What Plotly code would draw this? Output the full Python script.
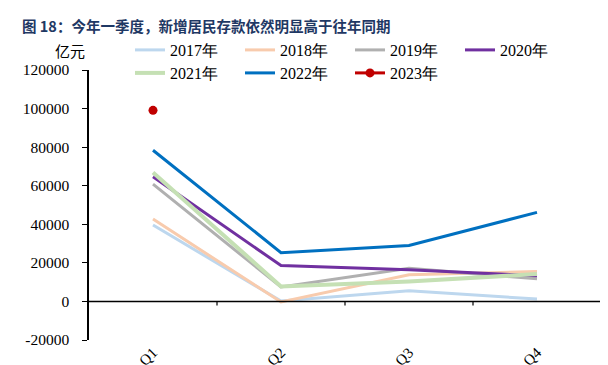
import plotly.graph_objects as go

quarters = ["Q1", "Q2", "Q3", "Q4"]
y2017 = [39600, 200, 5500, 1200]
y2018 = [42700, -300, 13800, 15500]
y2019 = [60800, 7500, 17200, 11700]
y2020 = [64600, 18600, 16400, 13300]
y2021 = [66900, 7800, 10300, 14200]
y2022 = [78400, 25300, 29000, 46200]
y2023 = [99100, None, None, None]
y_ticks = [-20000, 0, 20000, 40000, 60000, 80000, 100000, 120000]
y_ticklabels = ["-20000", "0", "20000", "40000", "60000", "80000", "100000", "120000"]

OFF = 8  # page body margin
W, H = 608 - OFF, 365 - OFF
serif = "Liberation Serif"

series = [
    ("2017年", y2017, "#BDD7EE", 3, "legend"),
    ("2018年", y2018, "#F8CBAD", 3, "legend"),
    ("2019年", y2019, "#B0B0B0", 3, "legend"),
    ("2020年", y2020, "#7030A0", 3, "legend"),
    ("2021年", y2021, "#C5E0B4", 4, "legend2"),
    ("2022年", y2022, "#0070C0", 3, "legend2"),
]

fig = go.Figure()
for name, ys, color, w, lg in series:
    fig.add_trace(go.Scatter(x=quarters, y=ys, name=name, mode="lines",
                             line=dict(color=color, width=w), legend=lg))
fig.add_trace(go.Scatter(x=quarters, y=y2023, name="2023年", mode="lines+markers",
                         line=dict(color="#C00000", width=3),
                         marker=dict(color="#C00000", size=9), legend="legend2"))

left, right, top, bottom = 89 - OFF, 7, 70 - OFF, 25
pw, ph = W - left - right, H - top - bottom


def cx(px):
    return (px - OFF) / W


def cy(px):
    return 1 - (px - OFF) / H


# horizontal axis line at zero plus tick marks on category boundaries
shapes = [dict(type="line", xref="paper", yref="y", x0=0, x1=1, y0=0, y1=0,
               line=dict(color="black", width=1.5), layer="above")]
for i in range(len(quarters)):
    shapes.append(dict(type="line", xref="x", yref="y", ysizemode="pixel", yanchor=0,
                       x0=i + 0.5, x1=i + 0.5, y0=0, y1=-4,
                       line=dict(color="black", width=1.2), layer="above"))

fig.update_layout(
    width=W, height=H,
    margin=dict(l=left, r=right, t=top, b=bottom, pad=0, autoexpand=False),
    paper_bgcolor="white", plot_bgcolor="white",
    font=dict(family=serif, size=15, color="black"),
    title=dict(text="<b>图 18：今年一季度，新增居民存款依然明显高于往年同期</b>",
               font=dict(family="Noto Sans CJK SC", size=14.5, color="#1F3864"),
               xref="container", yref="container", x=cx(22), y=cy(27),
               xanchor="left", yanchor="middle"),
    xaxis=dict(type="category", categoryorder="array", categoryarray=quarters,
               range=[-0.5, 3.5], showline=False, ticks="", showgrid=False,
               zeroline=False, tickangle=-45, tickfont=dict(family=serif, size=15)),
    yaxis=dict(range=[-20000, 120000], tickmode="array", tickvals=y_ticks,
               ticktext=y_ticklabels,
               showline=True, linecolor="black",
               linewidth=1.5, ticks="outside", ticklen=5, tickwidth=1.2,
               tickcolor="black", showgrid=False, zeroline=False,
               ticklabelstandoff=10, tickfont=dict(family=serif, size=15.5)),
    legend=dict(orientation="h", xref="container", yref="container",
                x=cx(130), y=cy(50), xanchor="left", yanchor="middle",
                font=dict(family=serif, size=16), entrywidth=65,
                bgcolor="rgba(0,0,0,0)"),
    legend2=dict(orientation="h", xref="container", yref="container",
                 x=cx(130), y=cy(73), xanchor="left", yanchor="middle",
                 font=dict(family=serif, size=16), entrywidth=65,
                 bgcolor="rgba(0,0,0,0)"),
    shapes=shapes,
    annotations=[dict(text="亿元", xref="paper", yref="paper",
                      x=(70 - OFF - left) / pw, y=(H - bottom - (51 - OFF)) / ph,
                      xanchor="center", yanchor="middle",
                      showarrow=False, font=dict(family="Noto Sans CJK SC", size=15))],
    showlegend=True,
)

fig.write_html("out.html")
